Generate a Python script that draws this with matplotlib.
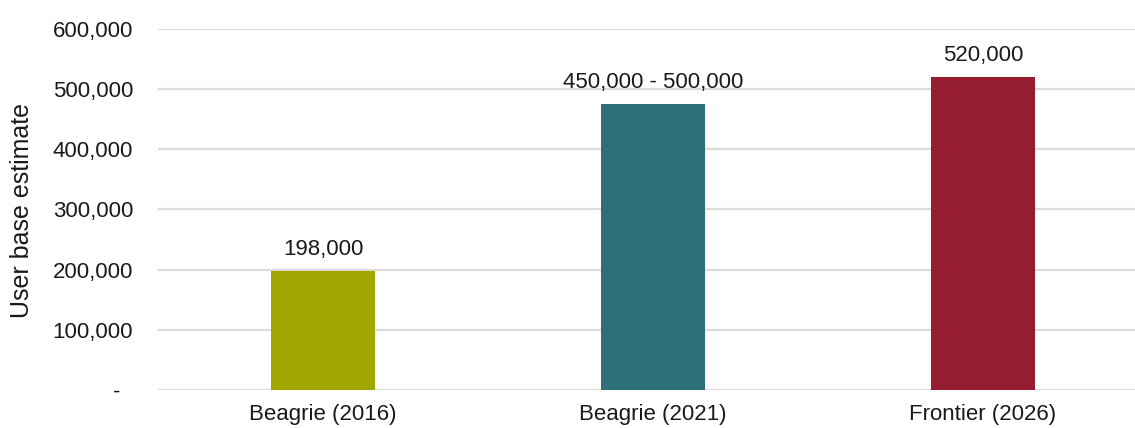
import matplotlib.pyplot as plt
from matplotlib.ticker import FuncFormatter

plt.rcParams['font.family'] = ['Liberation Sans', 'DejaVu Sans']

# User base estimates by source
sources = ["Beagrie (2016)", "Beagrie (2021)", "Frontier (2026)"]
estimates = [198000, 475000, 520000]
value_labels = ["198,000", "450,000 - 500,000", "520,000"]
bar_colors = ["#A0A800", "#2F6F78", "#961C30"]

fig = plt.figure(figsize=(11.35, 4.28), dpi=100)
ax = fig.add_axes([0.1392, 0.0888, 0.8722, 0.8435])

x = range(len(sources))
bars = ax.bar(x, estimates, width=0.315, color=bar_colors, zorder=3)

for bar, label in zip(bars, value_labels):
    ax.annotate(label, (bar.get_x() + bar.get_width() / 2, bar.get_height()),
                xytext=(0, 8), textcoords="offset points",
                ha="center", va="bottom", fontsize=16, color="#1a1a1a")

ax.set_xlim(-0.5, 2.5)
ax.set_ylim(0, 600000)
ax.set_yticks(range(0, 600001, 100000))
# accounting-style zero: a dash with trailing padding
ax.yaxis.set_major_formatter(FuncFormatter(lambda v, p: "-  " if v == 0 else f"{int(v):,}"))
ax.set_xticks(list(x))
ax.set_xticklabels(sources)

ax.grid(axis="y", color="#DEDAD6", linewidth=1.6, zorder=0)
for side in ["top", "right", "left", "bottom"]:
    ax.spines[side].set_visible(False)
ax.tick_params(axis="both", length=0, labelsize=16, colors="#1a1a1a")
ax.tick_params(axis="y", pad=18)
ax.tick_params(axis="x", pad=10)

fig.text(22 / 1135, 1 - 211 / 428, "User base estimate", rotation=90,
         ha="center", va="center", fontsize=18, color="#1a1a1a")

fig.savefig("out.png", dpi=100)
